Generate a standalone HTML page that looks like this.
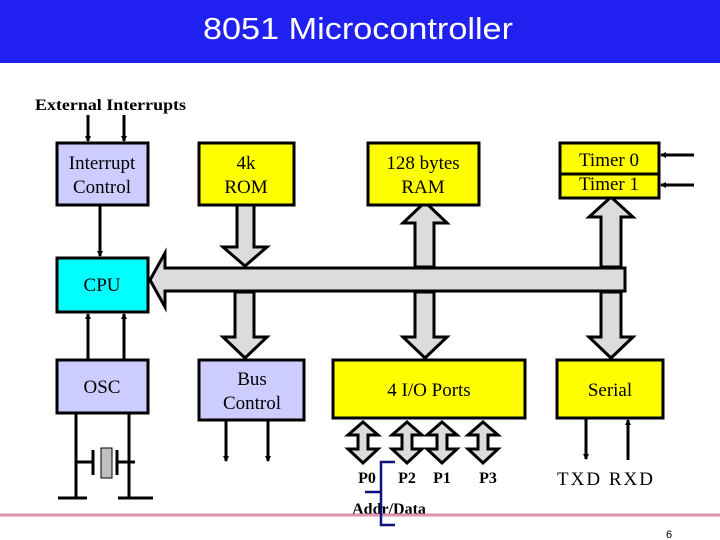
<!DOCTYPE html>
<html><head><meta charset="utf-8"><style>
html,body{margin:0;padding:0;background:#fff;}
svg{display:block;}
text{font-family:"Liberation Serif",serif;}
</style></head><body>
<svg width="720" height="540" viewBox="0 0 720 540" xmlns="http://www.w3.org/2000/svg">
<defs>
<marker id="ah" markerWidth="6" markerHeight="6" refX="5" refY="3" orient="auto" markerUnits="userSpaceOnUse"><path d="M0,0 L6,3 L0,6 z" fill="#000"/></marker>
</defs>
<rect x="0" y="0" width="720" height="63" fill="#2020f0"/>
<text x="358" y="39" text-anchor="middle" style="font-family:'Liberation Sans',sans-serif" font-size="31" fill="#fff" textLength="310" lengthAdjust="spacingAndGlyphs">8051 Microcontroller</text>

<text x="35" y="110" font-size="16" font-weight="bold" textLength="151" lengthAdjust="spacingAndGlyphs">External Interrupts</text>

<g stroke="#000" stroke-width="3" fill="none">
<line x1="88" y1="115" x2="88" y2="141" marker-end="url(#ah)"/>
<line x1="124" y1="115" x2="124" y2="141" marker-end="url(#ah)"/>
<line x1="100" y1="205" x2="100" y2="256" marker-end="url(#ah)"/>
<line x1="88" y1="360" x2="88" y2="314" marker-end="url(#ah)"/>
<line x1="124" y1="360" x2="124" y2="314" marker-end="url(#ah)"/>
<line x1="694" y1="155" x2="661" y2="155" marker-end="url(#ah)"/>
<line x1="694" y1="185" x2="661" y2="185" marker-end="url(#ah)"/>
<line x1="226" y1="420" x2="226" y2="461" marker-end="url(#ah)"/>
<line x1="268" y1="420" x2="268" y2="461" marker-end="url(#ah)"/>
<line x1="586" y1="418" x2="586" y2="459" marker-end="url(#ah)"/>
<line x1="628" y1="460" x2="628" y2="420" marker-end="url(#ah)"/>
<line x1="76" y1="413" x2="76" y2="498"/>
<line x1="129" y1="413" x2="129" y2="498"/>
<line x1="76" y1="462" x2="93" y2="462"/>
<line x1="117" y1="462" x2="135" y2="462"/>
<line x1="93" y1="450" x2="93" y2="475"/>
<line x1="117" y1="450" x2="117" y2="475"/>
<line x1="58" y1="498" x2="87" y2="498"/>
<line x1="118" y1="498" x2="153" y2="498"/>
</g>
<rect x="101" y="448" width="11" height="30" fill="#c0c0c0" stroke="#000" stroke-width="1"/>

<g stroke="#000" stroke-width="3" fill="#dcdcdc" stroke-linejoin="miter">
<path d="M150,280 L165,253 L165,268 L625,268 L625,291 L165,291 L165,307 Z"/>
<path d="M237,205 L254,205 L254,247 L267,247 L245,266 L223,247 L237,247 Z"/>
<path d="M415,267 L415,223 L403,223 L425,202 L447,223 L434,223 L434,267 Z"/>
<path d="M601,267 L601,217 L589,217 L611,197 L633,217 L621,217 L621,267 Z"/>
<path d="M235,292 L254,292 L254,337 L267,337 L245,358 L223,337 L235,337 Z"/>
<path d="M415,292 L434,292 L434,337 L447,337 L425,358 L403,337 L415,337 Z"/>
<path d="M601,292 L621,292 L621,337 L633,337 L611,358 L589,337 L601,337 Z"/>
</g>
<g stroke="#000" stroke-width="3" fill="#dcdcdc">
<path d="M363,422 L378,435 L368,435 L368,449 L378,449 L363,463 L348,449 L358,449 L358,435 L348,435 Z"/>
<path d="M407,422 L422,435 L412,435 L412,449 L422,449 L407,463 L392,449 L402,449 L402,435 L392,435 Z"/>
<path d="M442,422 L457,435 L447,435 L447,449 L457,449 L442,463 L427,449 L437,449 L437,435 L427,435 Z"/>
<path d="M483,422 L498,435 L488,435 L488,449 L498,449 L483,463 L468,449 L478,449 L478,435 L468,435 Z"/>
</g>

<g stroke="#000" stroke-width="3">
<rect x="57" y="143" width="91" height="62" fill="#ccccff"/>
<rect x="199" y="143" width="95" height="62" fill="#ffff00"/>
<rect x="368" y="143" width="111" height="62" fill="#ffff00"/>
<rect x="560" y="143" width="99" height="55" fill="#ffff00"/>
<line x1="560" y1="174" x2="659" y2="174"/>
<rect x="57" y="258" width="91" height="54" fill="#00ffff"/>
<rect x="57" y="360" width="91" height="53" fill="#ccccff"/>
<rect x="199" y="360" width="105" height="60" fill="#ccccff"/>
<rect x="333" y="360" width="192" height="58" fill="#ffff00"/>
<rect x="557" y="360" width="106" height="58" fill="#ffff00"/>
</g>

<g font-size="19" text-anchor="middle" fill="#000">
<text x="102" y="169">Interrupt</text>
<text x="102" y="193">Control</text>
<text x="246" y="169">4k</text>
<text x="246" y="193">ROM</text>
<text x="423" y="169">128 bytes</text>
<text x="423" y="193">RAM</text>
<text x="609" y="166">Timer 0</text>
<text x="609" y="190">Timer 1</text>
<text x="102" y="291">CPU</text>
<text x="102" y="393">OSC</text>
<text x="252" y="385">Bus</text>
<text x="252" y="409">Control</text>
<text x="429" y="396">4 I/O Ports</text>
<text x="610" y="396">Serial</text>
<text x="605" y="485" textLength="96" lengthAdjust="spacing">TXD  RXD</text>
</g>
<g font-size="16" font-weight="bold" text-anchor="middle">
<text x="367" y="483">P0</text>
<text x="407" y="483">P2</text>
<text x="442" y="483">P1</text>
<text x="488" y="483">P3</text>
<text x="389" y="514">Addr/Data</text>
</g>
<line x1="0" y1="515" x2="720" y2="515" stroke="#e090b0" stroke-width="3"/>
<path d="M395,462 L381,462 L381,492 L365,492 M381,492 L381,525 L395,525" stroke="#101080" stroke-width="2.5" fill="none"/>
<text x="666" y="538" font-size="11" style="font-family:'Liberation Sans',sans-serif">6</text>
</svg>
</body></html>
